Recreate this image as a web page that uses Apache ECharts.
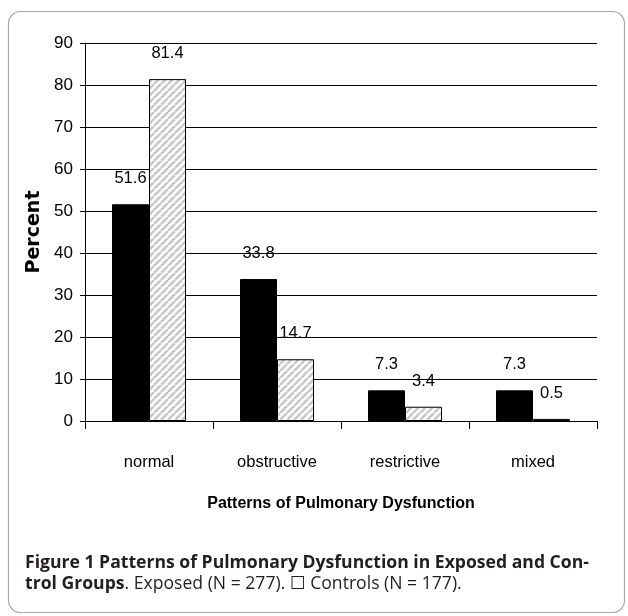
<!DOCTYPE html>
<html>
<head>
<meta charset="utf-8">
<script src="https://cdn.jsdelivr.net/npm/echarts@6/dist/echarts.min.js"></script>
<style>
html,body{margin:0;padding:0;background:#fff;}
#chart{width:628px;height:616px;}
</style>
</head>
<body>
<div id="chart"></div>
<script>
var categories = ['normal', 'obstructive', 'restrictive', 'mixed'];
var exposed = [51.6, 33.8, 7.3, 7.3];
var controls = [81.4, 14.7, 3.4, 0.5];
var yTicks = [0, 10, 20, 30, 40, 50, 60, 70, 80, 90];

var narrow = "'Liberation Sans Narrow', 'Arial Narrow', 'Liberation Sans', sans-serif";
var capFont = "'Open Sans', 'DejaVu Sans', sans-serif";

// hatch pattern
var pc = document.createElement('canvas');
pc.width = 7; pc.height = 7;
var ctx = pc.getContext('2d');
ctx.fillStyle = '#ffffff';
ctx.fillRect(0, 0, 7, 7);
ctx.strokeStyle = '#c8c8c8';
ctx.lineWidth = 2.6;
for (var k = -7; k <= 7; k += 7) {
  ctx.beginPath();
  ctx.moveTo(k, 7);
  ctx.lineTo(k + 7, 0);
  ctx.stroke();
}

var chart = echarts.init(document.getElementById('chart'), null, {renderer: 'canvas'});
var labelStyle = {
  show: true, position: 'top', distance: 17,
  fontFamily: narrow, fontSize: 16.5, color: '#000'
};
chart.setOption({
  animation: false,
  backgroundColor: '#fff',
  grid: {left: 85, right: 31, top: 43, bottom: 195, containLabel: false},
  xAxis: {
    type: 'category',
    data: categories,
    boundaryGap: true,
    name: 'Patterns of Pulmonary Dysfunction',
    nameLocation: 'middle',
    nameGap: 75,
    nameTextStyle: {fontFamily: narrow, fontSize: 16, fontWeight: 'bold', color: '#000'},
    axisLine: {show: true, lineStyle: {color: '#000', width: 1}},
    axisTick: {show: true, length: 8, interval: 0, lineStyle: {color: '#000'}},
    axisLabel: {fontFamily: narrow, fontSize: 16.5, color: '#000', margin: 33, interval: 0},
    splitLine: {show: false}
  },
  yAxis: {
    type: 'value',
    min: yTicks[0],
    max: yTicks[yTicks.length - 1],
    interval: yTicks[1] - yTicks[0],
    name: 'Percent',
    nameLocation: 'middle',
    nameGap: 28,
    nameRotate: 90,
    nameTextStyle: {fontFamily: "'DejaVu Sans', sans-serif", fontSize: 19, fontWeight: 'bold', color: '#000'},
    axisLine: {show: true, lineStyle: {color: '#000', width: 1}},
    axisTick: {show: true, length: 5, lineStyle: {color: '#000'}},
    axisLabel: {fontFamily: narrow, fontSize: 17, color: '#000', margin: 12},
    splitLine: {show: true, lineStyle: {color: '#000', width: 1}}
  },
  series: [
    {
      name: 'Exposed', type: 'bar', data: exposed,
      barWidth: 37, barGap: '0%',
      itemStyle: {color: '#000', borderColor: '#000', borderWidth: 1},
      label: labelStyle
    },
    {
      name: 'Controls', type: 'bar', data: controls,
      barWidth: 37, barGap: '0%',
      itemStyle: {color: {image: pc, repeat: 'repeat'}, borderColor: '#000', borderWidth: 1},
      label: labelStyle
    }
  ],
  graphic: [
    {
      type: 'rect', z: -1,
      shape: {x: 8.5, y: 11.5, width: 616, height: 601, r: 12},
      style: {fill: 'none', stroke: '#a8a8a8', lineWidth: 1.2}
    },
    {
      type: 'text', left: 25, top: 554,
      style: {
        text: 'Figure 1 Patterns of Pulmonary Dysfunction in Exposed and Con-',
        font: 'bold 17.6px ' + capFont, fill: '#231f20'
      }
    },
    {
      type: 'text', left: 25, top: 575,
      style: {
        text: '{b|trol Groups}{n|. Exposed (N = 277). \u2610 Controls (N = 177).}',
        rich: {
          b: {fontFamily: capFont, fontWeight: 'bold', fontSize: 17.6, fill: '#231f20', color: '#231f20'},
          n: {fontFamily: capFont, fontWeight: 'normal', fontSize: 17.6, fill: '#231f20', color: '#231f20'}
        }
      }
    }
  ]
});
</script>
</body>
</html>
